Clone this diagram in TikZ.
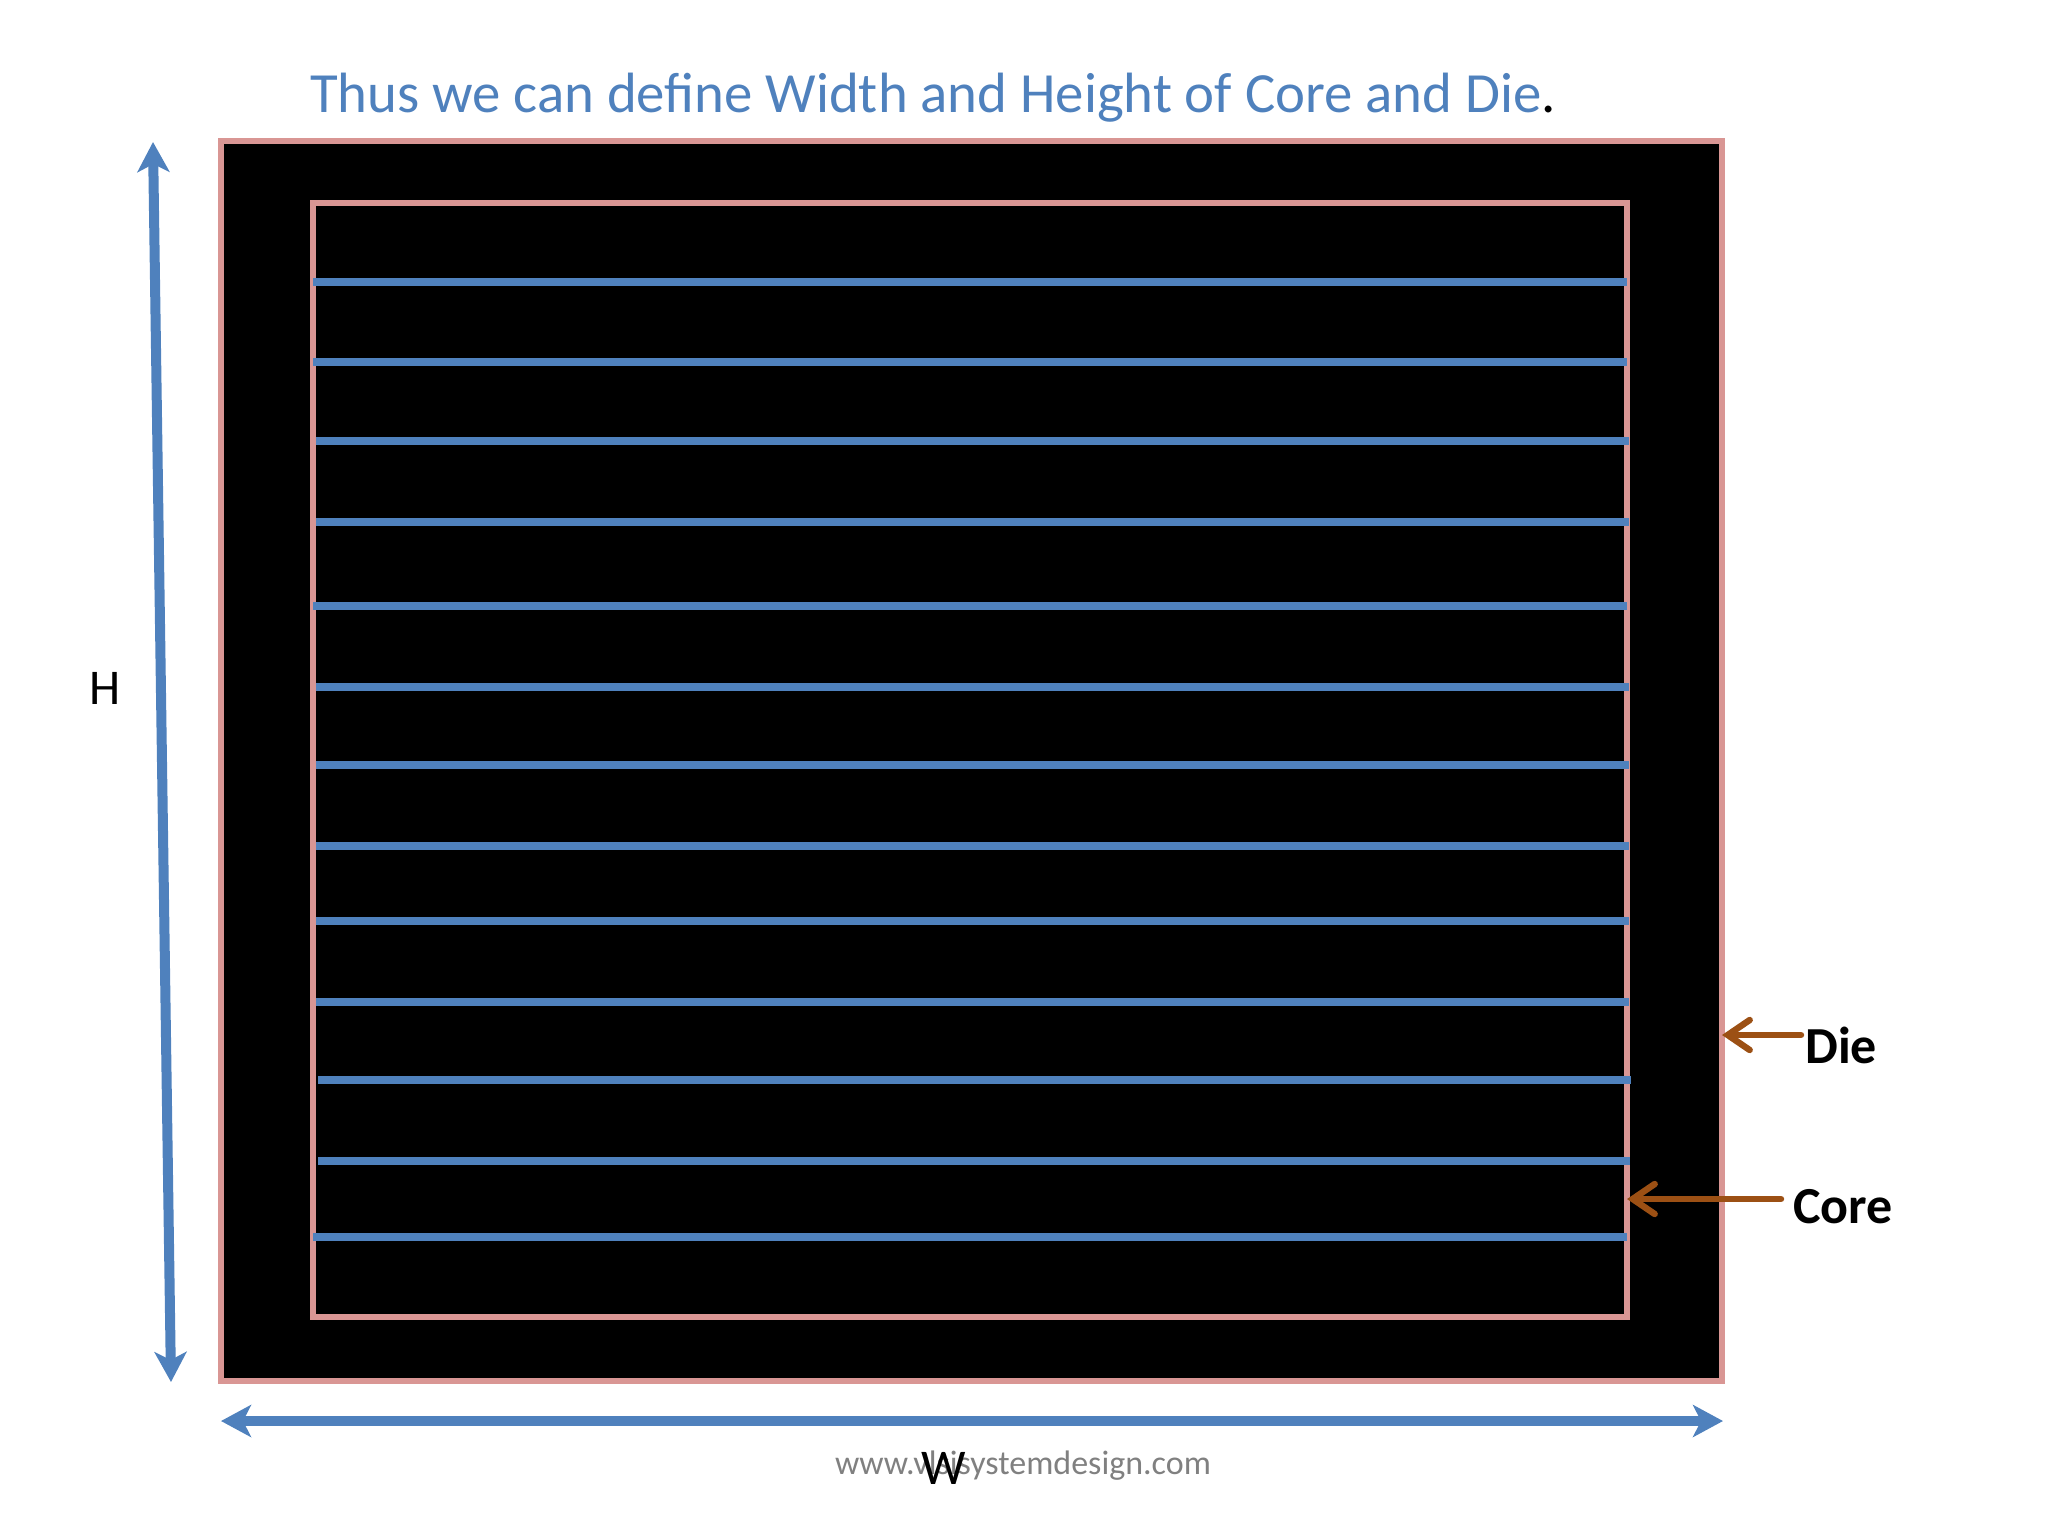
\documentclass[tikz,border=0pt]{standalone}
\usepackage{fontspec}
\setmainfont{Carlito}
\usetikzlibrary{arrows.meta, calc}
\definecolor{slideblue}{RGB}{79,129,189}
\definecolor{edgepink}{RGB}{217,150,148}
\definecolor{pointbrown}{RGB}{156,80,20}
\definecolor{markgray}{RGB}{128,128,128}

\begin{document}
\begin{tikzpicture}[x=0.5pt, y=-0.5pt,
	outline/.style={draw=edgepink, line width=3pt, fill=black},
	railline/.style={slideblue, line width=3.8pt},
	dimarrow/.style={slideblue, line width=5pt,
		{Stealth[length=15pt, width=16pt, inset=4pt]}-{Stealth[length=15pt, width=16pt, inset=4pt]}},
	pointer/.style={pointbrown, line width=3.2pt, line cap=round,
		-{Straight Barb[length=11pt, width=15pt, line cap=round]}},
	tag/.style={font=\fontsize{26}{30}\selectfont\bfseries, inner sep=0pt},
	dimlabel/.style={font=\fontsize{25}{30}\selectfont, inner sep=0pt}]
	\useasboundingbox (0,0) rectangle (2048,1536);
	% die and core
	\coordinate (dieNW) at (221,141);
	\coordinate (dieSE) at (1722,1381);
	\coordinate (coreNW) at (313,203);
	\coordinate (coreSE) at (1627,1317);
	\draw [outline] (dieNW) rectangle (dieSE);
	\draw [outline] (coreNW) rectangle (coreSE);
	\foreach \y/\xa/\xb in {282/313/1627, 362/313/1627, 441/316/1629, 522/316/1629,
		606/313/1627, 687/316/1629, 765/316/1629, 846/316/1629, 921/316/1629,
		1002/316/1629, 1080/318/1631, 1161/318/1630, 1237/313/1627}
		\draw [railline] (\xa,\y) -- (\xb,\y);
	% dimensions
	\coordinate (hTop) at (153,142);
	\coordinate (hBot) at (171,1382);
	\coordinate (wLeft) at (221,1421);
	\coordinate (wRight) at (1723,1421);
	\draw [dimarrow] (hTop) -- (hBot);
	\draw [dimarrow] (wLeft) -- (wRight);
	\node [dimlabel] (hlabel) at (105,688) {H};
	\node [font=\fontsize{17}{21}\selectfont, text=markgray, inner sep=0pt] (site) at (1023,1466) {www.vlsisystemdesign.com};
	\node [dimlabel] (wlabel) at (944,1468) {W};
	% labels
	\node [font=\fontsize{28.4}{34}\selectfont, text=slideblue, inner sep=0pt] (title) at (933,98)
		{Thus we can define Width and Height of Core and Die{\color{black}.}};
	\node [tag, anchor=west] (dielabel) at (1805,1045) {Die};
	\node [tag, anchor=west] (corelabel) at (1793,1207) {Core};
	\draw [pointer] ($(dielabel.west)+(-4,-10)$) -- (dieSE |- {$(dielabel.west)+(0,-10)$});
	\draw [pointer] ($(corelabel.west)+(-12,-8)$) -- (coreSE |- {$(corelabel.west)+(0,-8)$});
\end{tikzpicture}
\end{document}
